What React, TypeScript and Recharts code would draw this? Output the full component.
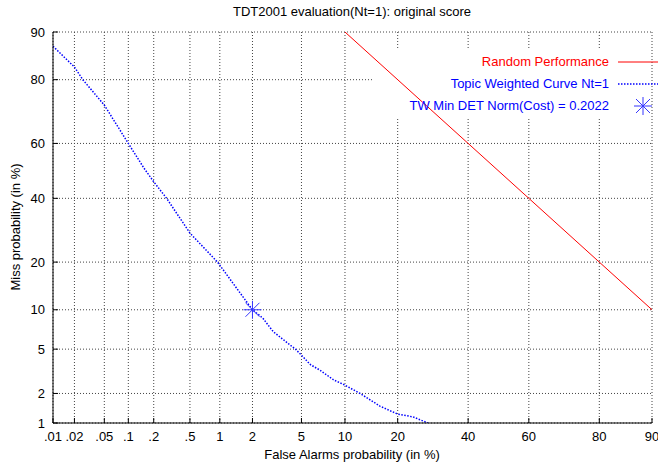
import React from 'react';
import { ComposedChart, Line, Scatter, XAxis, YAxis, CartesianGrid, Customized } from 'recharts';

// ---- data (percent values) ----
const xTickValues = [0.01, 0.02, 0.05, 0.1, 0.2, 0.5, 1, 2, 5, 10, 20, 40, 60, 80, 90];
const xTickLabels = ['.01', '.02', '.05', '.1', '.2', '.5', '1', '2', '5', '10', '20', '40', '60', '80', '90'];
const yTickValues = [1, 2, 5, 10, 20, 40, 60, 80, 90];
const yTickLabels = ['1', '2', '5', '10', '20', '40', '60', '80', '90'];

const curveFa = [0.01, 0.02, 0.026, 0.05, 0.1, 0.154, 0.2, 0.28, 0.5, 0.95, 1, 1.55, 2, 2.46, 3, 4.1, 4.5, 5, 5.8, 6.8, 8.4, 10, 12.4, 16.1, 20, 23.8, 27.8];
const curveMiss = [87.5, 83.1, 80, 72.8, 60, 51, 46, 40, 28.3, 20, 19.2, 13, 10, 8.7, 6.9, 5.4, 5, 4.45, 3.7, 3.3, 2.7, 2.4, 2, 1.5, 1.24, 1.16, 1];

const randomFa = [10, 90];
const randomMiss = [90, 10];

const minFa = [2];
const minMiss = [10];

const xRange = [0.01, 90];
const yRange = [1, 90];

// ---- normal deviate scale ----
function probit(p: number): number {
  const a = [-3.969683028665376e1, 2.209460984245205e2, -2.759285104469687e2, 1.38357751867269e2, -3.066479806614716e1, 2.506628277459239];
  const b = [-5.447609879822406e1, 1.615858368580409e2, -1.556989798598866e2, 6.680131188771972e1, -1.328068155288572e1];
  const c = [-7.784894002430293e-3, -3.223964580411365e-1, -2.400758277161838, -2.549732539343734, 4.374664141464968, 2.938163982698783];
  const d = [7.784695709041462e-3, 3.224671290700398e-1, 2.445134137142996, 3.754408661907416];
  const plow = 0.02425;
  const phigh = 1 - plow;
  if (p < plow) {
    const q = Math.sqrt(-2 * Math.log(p));
    return (((((c[0] * q + c[1]) * q + c[2]) * q + c[3]) * q + c[4]) * q + c[5]) / ((((d[0] * q + d[1]) * q + d[2]) * q + d[3]) * q + 1);
  }
  if (p <= phigh) {
    const q = p - 0.5;
    const r = q * q;
    return ((((((a[0] * r + a[1]) * r + a[2]) * r + a[3]) * r + a[4]) * r + a[5]) * q) / (((((b[0] * r + b[1]) * r + b[2]) * r + b[3]) * r + b[4]) * r + 1);
  }
  const q = Math.sqrt(-2 * Math.log(1 - p));
  return -(((((c[0] * q + c[1]) * q + c[2]) * q + c[3]) * q + c[4]) * q + c[5]) / ((((d[0] * q + d[1]) * q + d[2]) * q + d[3]) * q + 1);
}
const pz = (pct: number) => probit(pct / 100);

const xTicks = xTickValues.map(pz);
const yTicks = yTickValues.map(pz);
const xDomain = [pz(xRange[0]), pz(xRange[1])];
const yDomain = [pz(yRange[0]), pz(yRange[1])];

const curveData = curveFa.map((f, i) => ({ x: pz(f), y: pz(curveMiss[i]) }));
const randomData = randomFa.map((f, i) => ({ x: pz(f), y: pz(randomMiss[i]) }));
const minData = minFa.map((f, i) => ({ x: pz(f), y: pz(minMiss[i]) }));

function labelFor(v: number, ticks: number[], labels: string[]) {
  let best = 0;
  for (let i = 1; i < ticks.length; i++) {
    if (Math.abs(ticks[i] - v) < Math.abs(ticks[best] - v)) best = i;
  }
  return labels[best];
}

const FONT = '"Liberation Sans", Arial, Helvetica, sans-serif';
const BLUE = '#0000ff';
const STAR = '#3535ff';
const RED = '#ff0000';

function StarMark({ cx, cy }: { cx: number; cy: number }) {
  const r = 9;
  const dd = 7;
  return (
    <g stroke={STAR} strokeWidth={1}>
      <line x1={cx - r} y1={cy} x2={cx + r} y2={cy} />
      <line x1={cx} y1={cy - r} x2={cx} y2={cy + r} />
      <line x1={cx - dd} y1={cy - dd} x2={cx + dd} y2={cy + dd} />
      <line x1={cx - dd} y1={cy + dd} x2={cx + dd} y2={cy - dd} />
    </g>
  );
}

const tickStyle = { fill: '#000', fontSize: 13, fontFamily: FONT };

export default function App() {
  return (
    <div style={{ position: 'absolute', left: 0, top: 0, width: 658, height: 464, fontFamily: FONT, background: '#fff' }}>
      <ComposedChart width={658} height={464} margin={{ top: 32, right: 6, bottom: 0, left: 0 }}>
        <CartesianGrid stroke="#444" strokeDasharray="1 2" />
        <Customized component={() => <rect x={374} y={50} width={277} height={67} fill="#fff" />} />
        <XAxis
          xAxisId={0}
          dataKey="x"
          type="number"
          domain={xDomain}
          ticks={xTicks}
          interval={0}
          allowDataOverflow
          height={41}
          tickSize={-5}
          tickMargin={14}
          stroke="#000"
          tick={tickStyle}
          tickFormatter={(v: number) => labelFor(v, xTicks, xTickLabels)}
        />
        <XAxis
          xAxisId="top"
          orientation="top"
          dataKey="x"
          type="number"
          domain={xDomain}
          ticks={xTicks}
          interval={0}
          allowDataOverflow
          height={0}
          tickSize={-5}
          stroke="#000"
          tick={tickStyle}
          tickFormatter={() => ''}
        />
        <YAxis
          yAxisId={0}
          type="number"
          domain={yDomain}
          ticks={yTicks}
          interval={0}
          allowDataOverflow
          width={53}
          tickSize={-5}
          tickMargin={13}
          stroke="#000"
          tick={tickStyle}
          tickFormatter={(v: number) => labelFor(v, yTicks, yTickLabels)}
        />
        <YAxis
          yAxisId="right"
          orientation="right"
          type="number"
          domain={yDomain}
          ticks={yTicks}
          interval={0}
          allowDataOverflow
          width={0}
          tickSize={-5}
          stroke="#000"
          tick={tickStyle}
          tickFormatter={() => ''}
        />
        <Line
          data={randomData}
          dataKey="y"
          type="linear"
          stroke={RED}
          strokeWidth={1}
          dot={false}
          activeDot={false}
          isAnimationActive={false}
        />
        <Line
          data={curveData}
          dataKey="y"
          type="linear"
          stroke={BLUE}
          strokeWidth={1.5}
          strokeDasharray="1.5 1.5"
          dot={false}
          activeDot={false}
          isAnimationActive={false}
        />
        <Scatter
          data={minData}
          dataKey="y"
          isAnimationActive={false}
          shape={(p: any) => <StarMark cx={p.cx} cy={p.cy} />}
        />
      </ComposedChart>
      <svg
        width={658}
        height={464}
        style={{ position: 'absolute', left: 0, top: 0, pointerEvents: 'none' }}
        fontFamily={FONT}
        fontSize={13}
      >
        <text x={352} y={16} textAnchor="middle" fill="#000">TDT2001 evaluation(Nt=1): original score</text>
        <text x={352} y={459} textAnchor="middle" fill="#000">False Alarms probability (in %)</text>
        <text x={20} y={227} textAnchor="middle" fill="#000" transform="rotate(-90 20 227)">Miss probability (in %)</text>
        <text x={609} y={66} textAnchor="end" fill={RED}>Random Performance</text>
        <line x1={618} y1={62} x2={658} y2={62} stroke={RED} strokeWidth={1} />
        <text x={609} y={88} textAnchor="end" fill={BLUE}>Topic Weighted Curve Nt=1</text>
        <line x1={618} y1={84} x2={658} y2={84} stroke={BLUE} strokeWidth={1.5} strokeDasharray="1.5 1.5" />
        <text x={609} y={110} textAnchor="end" fill={BLUE}>TW Min DET Norm(Cost) = 0.2022</text>
        <StarMark cx={643} cy={106} />
      </svg>
    </div>
  );
}
